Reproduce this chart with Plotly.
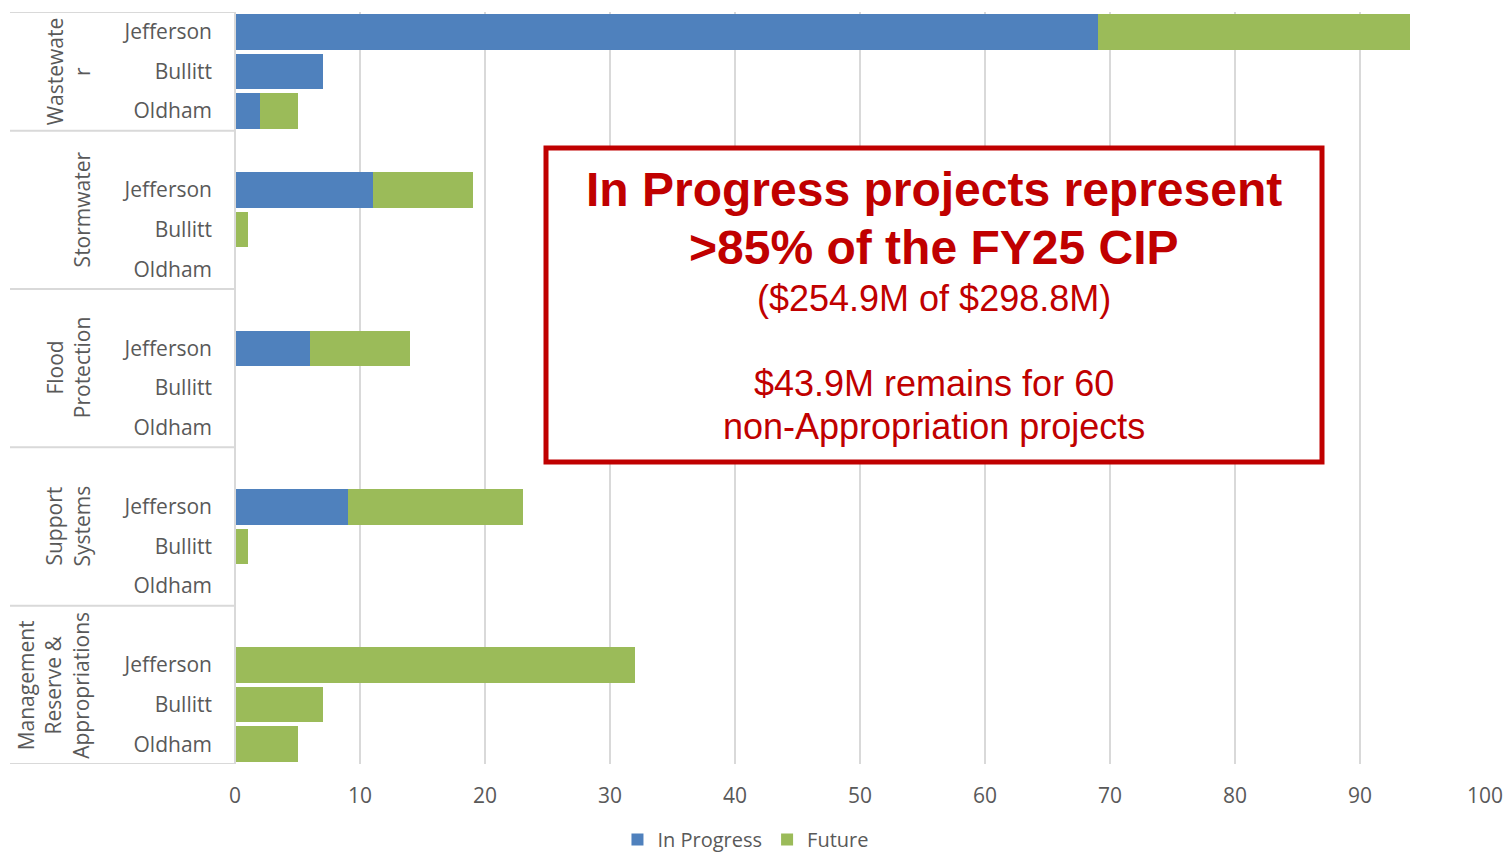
import plotly.graph_objects as go

groups = ["Wastewater", "Stormwater", "Flood Protection", "Support Systems",
          "Management Reserve & Appropriations"]
group_labels = ["Wastewate<br>r", "Stormwater", "Flood<br>Protection",
                "Support<br>Systems", "Management<br>Reserve &<br>Appropriations"]
counties = ["Jefferson", "Bullitt", "Oldham"]

in_progress = [69, 7, 2,
               11, 0, 0,
               6, 0, 0,
               9, 0, 0,
               0, 0, 0]
future = [25, 0, 3,
          8, 1, 0,
          8, 0, 0,
          14, 1, 0,
          32, 7, 5]

x_ticks = [0, 10, 20, 30, 40, 50, 60, 70, 80, 90, 100]

BLUE = "#4F81BD"
GREEN = "#9BBB59"
GRAY_TXT = "#595959"
GRID = "#D9D9D9"
RED = "#C00000"

n_c = len(counties)
slots = n_c + 1  # each group has one empty leading slot (as in the source chart)
row_labels = [c for _ in groups for c in counties]
ypos = [gi * slots + ci for gi in range(len(groups)) for ci in range(n_c)]
y_max = (len(groups) - 1) * slots + n_c - 1 + 0.5

fig = go.Figure()
fig.add_trace(go.Bar(y=ypos, x=in_progress, name="In Progress", orientation="h",
                     marker=dict(color=BLUE, line=dict(width=0))))
fig.add_trace(go.Bar(y=ypos, x=future, name="Future", orientation="h",
                     marker=dict(color=GREEN, line=dict(width=0))))

shapes = []
annotations = []
bounds = [-0.5]
for gi, lab in enumerate(group_labels):
    top = max(gi * slots - 1.5, -0.5)
    bot = gi * slots + n_c - 0.5
    bounds.append(bot)
    annotations.append(dict(xref="paper", yref="y", x=-0.110, y=(top + bot) / 2,
                            text=lab, textangle=-90, showarrow=False,
                            xanchor="right", yanchor="middle",
                            font=dict(family="Open Sans", size=21, color=GRAY_TXT),
                            align="center"))
for b in bounds:
    shapes.append(dict(type="line", xref="paper", yref="y", x0=-0.18, x1=0,
                       y0=b, y1=b, line=dict(color=GRID, width=2)))
shapes.append(dict(type="line", xref="paper", yref="paper", x0=0, x1=0, y0=0, y1=1,
                   line=dict(color=GRID, width=2)))
shapes.append(dict(type="rect", xref="paper", yref="paper",
                   x0=0.2488, x1=0.8696, y0=0.4016, y1=0.8191,
                   line=dict(color=RED, width=5), fillcolor="white", layer="above"))

cx = (0.2488 + 0.8696) / 2
def py(pix):
    return (764 - pix) / 752.0

box_text = [
    ("In Progress projects represent", 190, 48, True),
    (">85% of the FY25 CIP", 247, 48, True),
    ("($254.9M of $298.8M)", 298, 36, False),
    ("$43.9M remains for 60", 383, 36, False),
    ("non-Appropriation projects", 427, 36, False),
]
for txt, ypix, sz, bold in box_text:
    annotations.append(dict(xref="paper", yref="paper", x=cx, y=py(ypix),
                            text=f"<b>{txt}</b>" if bold else txt, showarrow=False,
                            xanchor="center", yanchor="middle",
                            font=dict(family="Liberation Sans, Arial", size=sz, color=RED)))

fig.update_layout(
    barmode="stack",
    bargap=0.1,
    width=1506, height=859,
    margin=dict(l=235, r=21, t=12, b=95, autoexpand=False),
    plot_bgcolor="white", paper_bgcolor="white",
    font=dict(family="Open Sans", size=21, color=GRAY_TXT),
    shapes=shapes,
    annotations=annotations,
    showlegend=True,
    legend=dict(orientation="h", xref="container", yref="container",
                x=0.495, xanchor="center", y=0.0, yanchor="bottom",
                font=dict(family="Open Sans", size=20, color=GRAY_TXT),
                itemwidth=30, traceorder="normal"),
    xaxis=dict(range=[0, 100], tickvals=x_ticks, showgrid=True, gridcolor=GRID,
               gridwidth=2, zeroline=False, showline=False, ticks="",
               ticklabelstandoff=17, automargin=False,
               tickfont=dict(family="Open Sans", size=21, color=GRAY_TXT)),
    yaxis=dict(tickvals=ypos, ticktext=row_labels, range=[y_max, -0.5],
               showgrid=False, zeroline=False, showline=False, ticks="",
               ticklabelstandoff=22, automargin=False,
               tickfont=dict(family="Open Sans", size=21, color=GRAY_TXT)),
)

fig.write_html("out.html", config={"displayModeBar": False},
               post_script="document.body.style.margin='0px';document.body.style.overflow='hidden';")
